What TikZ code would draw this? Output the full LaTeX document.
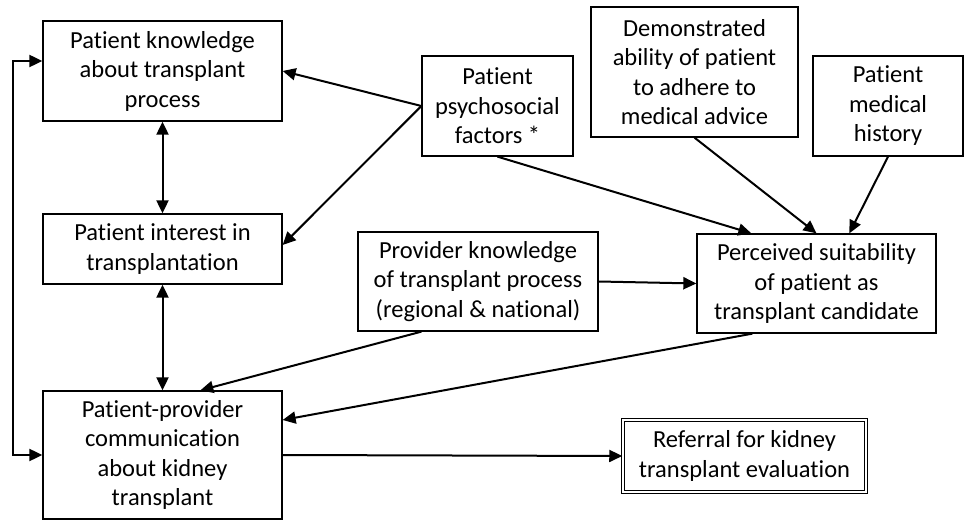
\documentclass[tikz,border=0pt]{standalone}
\usepackage{fontspec}
\setmainfont[Ligatures=NoCommon]{Carlito}
\usetikzlibrary{arrows.meta, calc}
\definecolor{ink}{HTML}{000000}

\begin{document}
\begin{tikzpicture}[x=1pt, y=-1pt,
  box/.style={draw=ink, line width=1.3pt, inner sep=0pt, align=center,
    font=\fontsize{24.5}{29.5}\selectfont},
  link/.style={draw=ink, line width=2pt, -{Triangle[length=13pt, width=12pt]}},
  both/.style={link, {Triangle[length=13pt, width=12pt]}-{Triangle[length=13pt, width=12pt]}}]

% Canvas (pixel coordinates, y downwards)
\useasboundingbox (0,0) rectangle (964,521);

% Patient side
\node[box, minimum width=239pt, minimum height=100pt] (know) at (162.5,71)
  {Patient knowledge\\about transplant\\process};
\node[box, minimum width=239pt, minimum height=70pt] (intr) at (162.5,249)
  {Patient interest in\\transplantation};
\node[box, minimum width=239pt, minimum height=128pt] (comm) at (162.5,455)
  {Patient-provider\\communication\\about kidney\\transplant};

% Factors along the top
\node[box, minimum width=151pt, minimum height=100pt] (psych) at (497.5,106)
  {Patient\\psychosocial\\factors *};
\node[box, minimum width=207pt, minimum height=130pt] (demo) at (694.5,72)
  {Demonstrated\\ability of patient\\to adhere to\\medical advice};
\node[box, minimum width=150pt, minimum height=100pt] (hist) at (888,106)
  {Patient\\medical\\history};

% Provider side
\node[box, minimum width=240pt, minimum height=99pt] (prov) at (478,281.5)
  {Provider knowledge\\of transplant process\\(regional \& national)};
\node[box, minimum width=239pt, minimum height=99pt] (percv) at (816.5,283.5)
  {Perceived suitability\\of patient as\\transplant candidate};

% Outcome
\node[box, double, double distance=1.6pt, line width=1.5pt,
  minimum width=243pt, minimum height=72pt] (refer) at (744.5,456)
  {Referral for kidney\\transplant evaluation};

% Arrows between patient boxes
\draw[both] (know) -- (intr);
\draw[both] (intr) -- (comm);
\draw[both] ([yshift=10pt]know.west) -- ++(-29,0) |- (comm.west);

% Psychosocial factors
\draw[link] (psych.west) -- (know.east);
\draw[link] (psych.west) -- ([yshift=4pt]intr.east);
\draw[link] (psych.south) -- ([xshift=55pt]percv.north west);

% Into perceived suitability
\draw[link] (demo.south) -- (percv.north);
\draw[link] (hist.south) -- ([xshift=153pt]percv.north west);
\draw[link] (prov.east) -- (percv.west);

% Into communication
\draw[link] ([xshift=64pt]prov.south west) -- ([xshift=158pt]comm.north west);
\draw[link] ([xshift=56pt]percv.south west) -- ([yshift=35pt]comm.east);

% Referral
\draw[link] (comm.east) -- (refer.west);

\end{tikzpicture}
\end{document}
